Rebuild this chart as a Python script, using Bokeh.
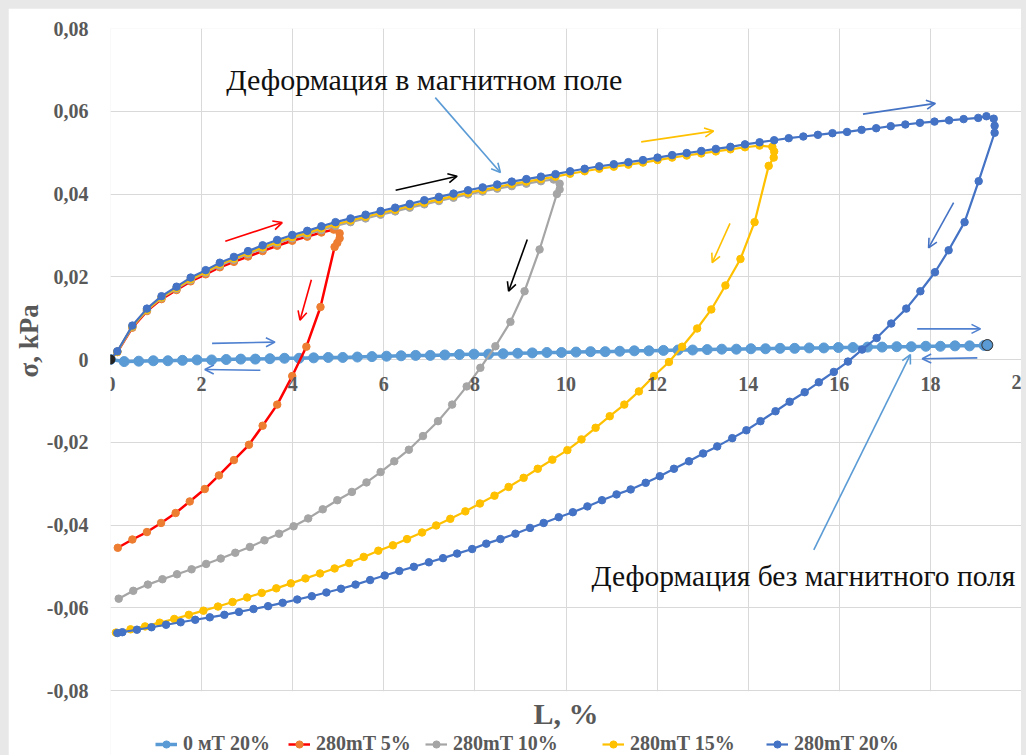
from bokeh.plotting import figure
from bokeh.models import (Label, Arrow, OpenHead, Legend, LegendItem, FixedTicker,
                          CustomJSTickFormatter, Range1d, Title, BoxAnnotation)
from bokeh.embed import file_html
from bokeh.resources import INLINE

# ---------------- data ----------------
series_names = ["0 мТ 20%", "280mT 5%", "280mT 10%", "280mT 15%", "280mT 20%"]
x_ticks = [0, 2, 4, 6, 8, 10, 12, 14, 16, 18, 20]
y_ticks = [-0.08, -0.06, -0.04, -0.02, 0.0, 0.02, 0.04, 0.06, 0.08]

m0_x = [0.0, 0.3, 0.62, 0.94, 1.26, 1.58, 1.9, 2.22, 2.54, 2.86, 3.18, 3.5, 3.82, 4.14, 4.46, 4.78, 5.1, 5.42,
        5.74, 6.06, 6.38, 6.7, 7.02, 7.34, 7.66, 7.98, 8.3, 8.62, 8.94, 9.26, 9.58, 9.9, 10.22, 10.54, 10.86,
        11.18, 11.5, 11.82, 12.14, 12.46, 12.78, 13.1, 13.42, 13.74, 14.06, 14.38, 14.7, 15.02, 15.34, 15.66,
        15.98, 16.3, 16.62, 16.94, 17.26, 17.58, 17.9, 18.22, 18.54, 18.86, 19.18, 19.25]
m0_y = [0.0, -0.0005, -0.0004, -0.0003, -0.0003, -0.0002, -0.0001, -0.0001, 0.0, 0.0001,
        0.0001, 0.0002, 0.0003, 0.0003, 0.0004, 0.0005, 0.0005, 0.0006, 0.0007, 0.0008,
        0.0009, 0.001, 0.001, 0.0011, 0.0012, 0.0013, 0.0013, 0.0014, 0.0015, 0.0016,
        0.0017, 0.0017, 0.0018, 0.0019, 0.0019, 0.002, 0.0021, 0.0021, 0.0022, 0.0023,
        0.0023, 0.0024, 0.0025, 0.0025, 0.0026, 0.0026, 0.0027, 0.0027, 0.0028, 0.0028,
        0.0029, 0.0029, 0.003, 0.003, 0.0031, 0.0031, 0.0032, 0.0032, 0.0033, 0.0033,
        0.0034, 0.0035]

r5_x = [0.0, 0.15, 0.48, 0.8, 1.12, 1.45, 1.76, 2.09, 2.4, 2.71, 3.02, 3.34, 3.66, 3.99, 4.32, 4.63, 4.9,
        5.03, 5.03, 4.98, 4.92, 4.61, 4.3, 3.99, 3.66, 3.34, 3.04, 2.71, 2.38, 2.07, 1.74, 1.43, 1.11, 0.8,
        0.48, 0.16]
r5_y = [0.0, 0.0018, 0.0077, 0.0117, 0.0146, 0.0168, 0.0189, 0.0206, 0.0223, 0.0236,
        0.0249, 0.0262, 0.0275, 0.0287, 0.0297, 0.0307, 0.0314, 0.0305, 0.0293, 0.0282,
        0.0272, 0.0127, 0.0031, -0.004, -0.0109, -0.016, -0.0206, -0.0243, -0.028, -0.0313,
        -0.0343, -0.0371, -0.0395, -0.0417, -0.0435, -0.0455]

g10_x = [0.0, 0.15, 0.48, 0.8, 1.12, 1.45, 1.76, 2.09, 2.4, 2.71, 3.02, 3.34, 3.66, 3.99, 4.32, 4.63, 4.94,
         5.27, 5.6, 5.93, 6.25, 6.57, 6.89, 7.21, 7.53, 7.85, 8.17, 8.49, 8.81, 9.13, 9.45, 9.73, 9.86, 9.86,
         9.8, 9.42, 9.09, 8.78, 8.45, 8.12, 7.82, 7.5, 7.19, 6.86, 6.55, 6.23, 5.93, 5.62, 5.3, 4.98, 4.66,
         4.34, 4.02, 3.7, 3.38, 3.06, 2.74, 2.42, 2.1, 1.78, 1.46, 1.14, 0.82, 0.5, 0.18]
g10_y = [0.0, 0.0019, 0.0079, 0.0119, 0.0149, 0.0171, 0.0192, 0.021, 0.0227, 0.0241,
         0.0255, 0.0268, 0.0281, 0.0293, 0.0302, 0.0313, 0.0323, 0.0332, 0.0341, 0.035,
         0.0358, 0.0367, 0.0375, 0.0383, 0.0391, 0.0399, 0.0406, 0.0413, 0.0419, 0.0425,
         0.0431, 0.0435, 0.0425, 0.0411, 0.04, 0.0266, 0.0165, 0.0091, 0.0032, -0.002,
         -0.0065, -0.0109, -0.0149, -0.0185, -0.0218, -0.0246, -0.0272, -0.0297, -0.032, -0.034,
         -0.0362, -0.0384, -0.0403, -0.0421, -0.0437, -0.0453, -0.0467, -0.0481, -0.0494, -0.0507,
         -0.0519, -0.0531, -0.0544, -0.0559, -0.0578]

y15_x = [0.0, 0.15, 0.48, 0.8, 1.12, 1.45, 1.76, 2.09, 2.4, 2.71, 3.02, 3.34, 3.66, 3.99, 4.32, 4.63, 4.94,
         5.27, 5.6, 5.93, 6.25, 6.57, 6.89, 7.21, 7.53, 7.85, 8.17, 8.49, 8.81, 9.13, 9.45, 9.77, 10.09, 10.41,
         10.73, 11.05, 11.37, 11.69, 12.01, 12.33, 12.65, 12.97, 13.29, 13.61, 13.93, 14.25, 14.53, 14.57,
         14.56, 14.45, 14.14, 13.83, 13.5, 13.19, 12.88, 12.55, 12.26, 11.93, 11.6, 11.28, 10.96, 10.65,
         10.34, 10.03, 9.7, 9.38, 9.07, 8.74, 8.43, 8.11, 7.79, 7.46, 7.15, 6.84, 6.51, 6.2, 5.88, 5.56, 5.24,
         4.92, 4.6, 4.28, 3.96, 3.64, 3.32, 3.0, 2.68, 2.36, 2.04, 1.72, 1.4, 1.08, 0.76, 0.44, 0.12]
y15_y = [0.0, 0.0019, 0.008, 0.012, 0.015, 0.0173, 0.0194, 0.0212, 0.023, 0.0244,
         0.0258, 0.0271, 0.0284, 0.0296, 0.0306, 0.0317, 0.0327, 0.0336, 0.0345, 0.0354,
         0.0362, 0.0371, 0.0379, 0.0387, 0.0395, 0.0403, 0.041, 0.0417, 0.0424, 0.043,
         0.0436, 0.0442, 0.0449, 0.0455, 0.0461, 0.0466, 0.0471, 0.0476, 0.0482, 0.0488,
         0.0493, 0.0498, 0.0503, 0.0508, 0.0513, 0.0517, 0.0514, 0.0503, 0.0488, 0.0468,
         0.0332, 0.0243, 0.0179, 0.0121, 0.0075, 0.0031, -0.0006, -0.004, -0.0077, -0.0109,
         -0.0137, -0.0165, -0.0193, -0.0219, -0.0242, -0.0264, -0.0286, -0.0308, -0.0329, -0.0348,
         -0.0367, -0.0385, -0.0401, -0.0418, -0.0434, -0.0449, -0.0462, -0.0477, -0.0492, -0.0505,
         -0.0517, -0.0529, -0.0541, -0.0553, -0.0564, -0.0575, -0.0586, -0.0597, -0.0607, -0.0617,
         -0.0627, -0.0636, -0.0645, -0.0652, -0.066]

b20_x = [0.0, 0.15, 0.48, 0.8, 1.12, 1.45, 1.76, 2.09, 2.4, 2.71, 3.02, 3.34, 3.66, 3.99, 4.32, 4.63, 4.94,
         5.27, 5.6, 5.93, 6.25, 6.57, 6.89, 7.21, 7.53, 7.85, 8.17, 8.49, 8.81, 9.13, 9.45, 9.77, 10.09, 10.41,
         10.73, 11.05, 11.37, 11.69, 12.01, 12.33, 12.65, 12.97, 13.29, 13.61, 13.93, 14.25, 14.57, 14.89,
         15.21, 15.53, 15.85, 16.17, 16.49, 16.81, 17.13, 17.45, 17.77, 18.09, 18.41, 18.73, 19.05, 19.23,
         19.39, 19.41, 19.41,
         19.06, 18.75, 18.4, 18.1, 17.78, 17.47, 17.14, 16.82, 16.5, 16.19, 15.88, 15.55, 15.24, 14.91, 14.6,
         14.27, 13.96, 13.65, 13.32, 13.01, 12.7, 12.37, 12.06, 11.75, 11.42, 11.11, 10.79, 10.47, 10.15,
         9.84, 9.51, 9.21, 8.89, 8.56, 8.25, 7.94, 7.61, 7.3, 6.99, 6.66, 6.34, 6.02, 5.7, 5.38, 5.06, 4.74,
         4.42, 4.1, 3.78, 3.46, 3.14, 2.82, 2.5, 2.18, 1.86, 1.54, 1.22, 0.9, 0.58, 0.26, 0.15]
b20_y = [0.0, 0.002, 0.0082, 0.0123, 0.0153, 0.0176, 0.0198, 0.0216, 0.0234, 0.0248,
         0.0262, 0.0276, 0.0289, 0.0301, 0.0311, 0.0322, 0.0332, 0.0341, 0.035, 0.0359,
         0.0367, 0.0376, 0.0385, 0.0393, 0.0401, 0.0409, 0.0416, 0.0423, 0.043, 0.0436,
         0.0442, 0.0448, 0.0455, 0.0461, 0.0467, 0.0472, 0.0477, 0.0482, 0.0488, 0.0494,
         0.0499, 0.0504, 0.0509, 0.0514, 0.052, 0.0525, 0.053, 0.0535, 0.0539, 0.0543,
         0.0547, 0.055, 0.0555, 0.0559, 0.0564, 0.0568, 0.0572, 0.0575, 0.0578, 0.0581,
         0.0584, 0.0588, 0.0582, 0.0565, 0.0548,
         0.0431, 0.0332, 0.0264, 0.0211, 0.0165, 0.0123, 0.0087, 0.0052, 0.0024, -0.0005,
         -0.003, -0.0055, -0.0079, -0.0102, -0.0125, -0.0149, -0.0171, -0.019, -0.021, -0.0227,
         -0.0246, -0.0264, -0.0282, -0.0298, -0.0314, -0.0326, -0.034, -0.0355, -0.0369, -0.0381,
         -0.0395, -0.0407, -0.0421, -0.0434, -0.0445, -0.0458, -0.0469, -0.048, -0.049, -0.0501,
         -0.0511, -0.0522, -0.0533, -0.0544, -0.0554, -0.0563, -0.0572, -0.058, -0.0588, -0.0596,
         -0.0603, -0.061, -0.0617, -0.0623, -0.0629, -0.0635, -0.0641, -0.0647, -0.0653, -0.0659,
         -0.0661]

x_title = "L, %"
y_title = "σ, kPa"
note_field = "Деформация в магнитном поле"
note_nofield = "Деформация без магнитного поля"

# ---------------- figure ----------------
SERIF = "Liberation Serif"
GRAY_TXT = "#595959"
Y_LOW = -0.0957  # area below -0.08 holds the axis title and the legend

p = figure(width=1013, height=747, output_backend="svg", toolbar_location=None,
           x_range=Range1d(0, 20), y_range=Range1d(Y_LOW, 0.08),
           min_border_left=102, min_border_right=0, min_border_top=20, min_border_bottom=0)
p.outline_line_color = None
p.border_fill_color = "white"
p.background_fill_color = "white"

xt = FixedTicker(ticks=x_ticks)
yt = FixedTicker(ticks=y_ticks)
p.xaxis.ticker = xt
p.yaxis.ticker = yt
p.xgrid.ticker = xt
p.ygrid.ticker = yt
p.xgrid.grid_line_color = "#d9d9d9"
p.ygrid.grid_line_color = "#d9d9d9"

p.xaxis.fixed_location = 0
p.xaxis.major_label_overrides = {20: " "}
p.yaxis.bounds = (-0.0801, 0.0801)
for ax in (p.xaxis, p.yaxis):
    ax.axis_line_color = None
    ax.major_tick_line_color = None
    ax.minor_tick_line_color = None
    ax.major_label_text_font = SERIF
    ax.major_label_text_font_style = "bold"
    ax.major_label_text_font_size = "20px"
    ax.major_label_text_color = GRAY_TXT
p.xaxis.major_label_standoff = 7
p.yaxis.major_label_standoff = 16
p.yaxis.formatter = CustomJSTickFormatter(
    code="if (Math.abs(tick) < 1e-9) { return '0'; } return tick.toFixed(2).replace('.', ',');")
p.xaxis.formatter = CustomJSTickFormatter(code="return tick.toFixed(0);")

p.add_layout(Title(text=y_title, align="left", offset=378, text_font=SERIF, text_font_style="bold",
                   text_font_size="27px", text_color=GRAY_TXT, standoff=0), "left")

# ---------------- series ----------------
styles = [
    # (x, y, line colour, marker colour, line width, marker size)
    (m0_x, m0_y, "#5B9BD5", "#5B9BD5", 3.5, 10),
    (r5_x, r5_y, "#FF0000", "#ED7D31", 2.5, 7.5),
    (g10_x, g10_y, "#A5A5A5", "#A5A5A5", 2.2, 7.5),
    (y15_x, y15_y, "#FFC000", "#FFC000", 2.2, 7.5),
    (b20_x, b20_y, "#4472C4", "#4472C4", 2.2, 7.5),
]

items = []
for name, (xs, ys, lc, mc, lw, ms) in zip(series_names, styles):
    lr = p.line(xs, ys, line_color=lc, line_width=lw)
    sr = p.scatter(xs, ys, size=ms, marker="circle", fill_color=mc, line_color=mc)
    items.append(LegendItem(label=name, renderers=[lr, sr]))

# dark shadowed end points of the 0 mT series
p.scatter([m0_x[-1]], [m0_y[-1]], size=11, marker="circle", fill_color="#3a3a3a", line_color="#3a3a3a")
p.scatter([m0_x[-1]], [m0_y[-1]], size=9, marker="circle", fill_color="#5B9BD5", line_color="#5B9BD5")
p.scatter([m0_x[0]], [m0_y[0]], size=9, marker="circle", fill_color="#222222", line_color="#222222")

# last x tick label, clipped by the plot edge as in the original
p.text(x=[x_ticks[-1]], y=[0], text=[str(x_ticks[-1])], text_font=SERIF, text_font_style="bold",
       text_font_size="20px", text_color=GRAY_TXT, text_align="center", text_baseline="top", y_offset=15)

# white band under the -0.08 line hides the grid there
p.add_layout(BoxAnnotation(top=-0.0802, fill_color="white", fill_alpha=1.0, line_color=None))

# legend entries, one box each so their spacing follows the original
legend_offsets = [45, 178, 315, 492, 656]
for item, off in zip(items, legend_offsets):
    p.add_layout(Legend(items=[item], orientation="horizontal", location=(off, 0),
                        label_text_font=SERIF, label_text_font_style="bold",
                        label_text_font_size="20px", label_text_color=GRAY_TXT,
                        glyph_width=22, glyph_height=18, label_standoff=6, spacing=0,
                        padding=0, margin=0, background_fill_alpha=0, border_line_color=None))

# ---------------- annotations ----------------
arrows = [
    # (x0, y0, x1, y1, colour)
    (7.13, 0.0633, 8.56, 0.0452, "#5B9BD5"),
    (6.26, 0.0409, 7.61, 0.0443, "#000000"),
    (2.52, 0.0286, 3.77, 0.0331, "#FF0000"),
    (4.41, 0.0193, 4.16, 0.0095, "#FF0000"),
    (2.23, 0.0039, 3.61, 0.0042, "#4F81D0"),
    (3.29, -0.0026, 2.07, -0.0024, "#4F81D0"),
    (9.15, 0.0290, 8.74, 0.0165, "#000000"),
    (11.65, 0.0526, 13.24, 0.0552, "#FFC000"),
    (13.60, 0.0329, 13.21, 0.0234, "#FFC000"),
    (16.52, 0.0593, 18.11, 0.0619, "#4472C4"),
    (18.51, 0.0379, 17.96, 0.0270, "#4472C4"),
    (17.71, 0.0074, 19.10, 0.0074, "#4F81D0"),
    (19.03, 0.0004, 17.82, 0.0002, "#4F81D0"),
    (15.44, -0.0460, 17.56, 0.0012, "#5B9BD5"),
]
for x0, y0, x1, y1, c in arrows:
    p.add_layout(Arrow(x_start=x0, y_start=y0, x_end=x1, y_end=y1, line_color=c, line_width=1.6,
                       end=OpenHead(size=9, line_color=c, line_width=1.6)))

p.add_layout(Label(x=2.54, y=0.0677, text=note_field, text_font=SERIF, text_font_size="30px",
                   text_color="#111111", text_baseline="alphabetic", text_align="left"))
p.add_layout(Label(x=10.56, y=-0.0522, text=note_nofield, text_font=SERIF, text_font_size="29.5px",
                   text_color="#111111", text_baseline="alphabetic", text_align="left"))
p.add_layout(Label(x=10, y=-0.0856, text=x_title, text_font=SERIF, text_font_size="30px",
                   text_font_style="bold", text_color=GRAY_TXT, text_baseline="middle",
                   text_align="center"))

html = file_html(p, INLINE)
html = html.replace("</head>",
                    "<style>html, body {background-color:#e8e8e8;} body {padding:8px 0 0 8px !important;}</style></head>",
                    1)
open("out.html", "w").write(html)
